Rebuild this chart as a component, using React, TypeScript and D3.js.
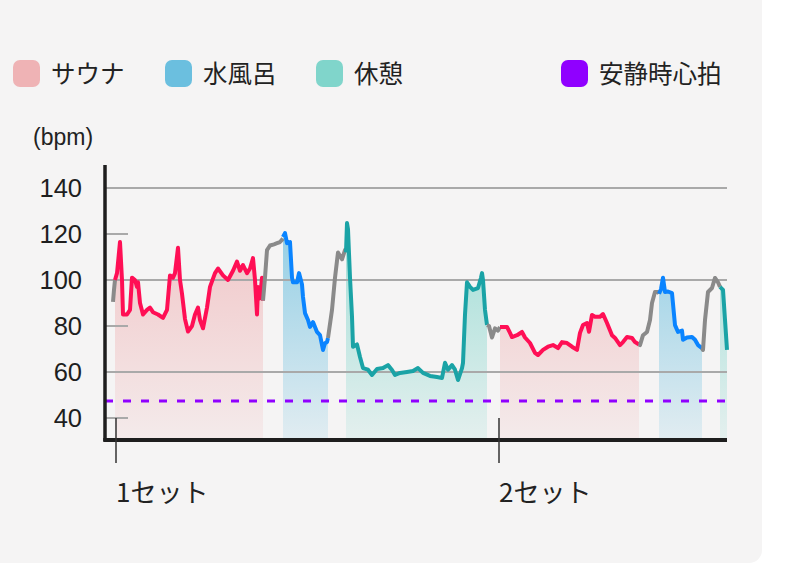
import { scaleLinear, line as d3line, area as d3area } from "d3";

// time in minutes from the start of the session, bpm
type Pt = [number, number];
type Phase = "sauna" | "water" | "rest" | "trans";

const trans0: Pt[] = [[0, 90.5], [0.1, 95.7], [0.2, 100]];
const sauna1: Pt[] = [
  [0.2, 100], [0.4, 103], [0.7, 116.5], [0.9, 100], [1.0, 85], [1.4, 85], [1.7, 87], [1.9, 101],
  [2.2, 100], [2.4, 97], [2.5, 99], [2.7, 90], [3.0, 85], [3.4, 87], [3.7, 88], [4.0, 86],
  [4.5, 85], [5.0, 83.5], [5.4, 87], [5.7, 102], [6.0, 101], [6.2, 103], [6.5, 114], [6.7, 100],
  [6.9, 94], [7.2, 83], [7.5, 77.6], [7.9, 80], [8.2, 85], [8.5, 88], [8.7, 82.6], [9.0, 79],
  [9.4, 88], [9.7, 97], [10.2, 103], [10.5, 105], [11.0, 102], [11.5, 100], [12.0, 104], [12.4, 108],
  [12.7, 104], [13.0, 106.5], [13.4, 103], [13.7, 105], [14.0, 109.5], [14.2, 100], [14.4, 85],
  [14.5, 97], [14.7, 92], [14.9, 101], [15.0, 91],
];
const trans1: Pt[] = [[15.0, 91], [15.2, 101], [15.4, 113], [15.7, 115], [16.1, 115.5], [16.4, 116], [16.7, 116.5], [17.0, 118]];
const water1: Pt[] = [
  [17.0, 118.7], [17.2, 120.4], [17.4, 116], [17.7, 116.5], [17.9, 101], [18.0, 99], [18.4, 99],
  [18.6, 103], [18.9, 98], [19.0, 92.6], [19.2, 85.6], [19.5, 82.6], [19.7, 79.6], [20.0, 81.7],
  [20.4, 77.4], [20.7, 76], [21.0, 69.6], [21.2, 72.5], [21.4, 73], [21.5, 74.8],
];
const trans2: Pt[] = [[21.5, 74.8], [21.9, 87], [22.2, 101], [22.5, 112], [22.9, 109], [23.2, 113], [23.3, 112]];
const rest1: Pt[] = [
  [23.3, 112], [23.4, 124.8], [23.5, 122], [23.7, 101], [23.9, 84], [24.0, 71], [24.4, 72], [24.7, 66.5],
  [25.0, 61.7], [25.5, 61], [25.9, 58.7], [26.4, 61.3], [27.0, 61.7], [27.5, 63], [27.9, 60.9],
  [28.2, 58.7], [28.7, 59.6], [29.4, 60], [30.0, 60.4], [30.5, 61.7], [31.0, 59.6], [31.7, 58.3],
  [32.4, 57.8], [32.9, 57.4], [33.2, 64], [33.5, 61], [33.9, 63], [34.2, 61], [34.5, 56.5],
  [34.9, 61.7], [35.0, 64], [35.2, 85], [35.4, 99], [35.7, 97], [36.0, 95.7], [36.5, 96.5],
  [36.8, 101], [36.9, 103], [37.0, 100], [37.2, 87], [37.4, 80.4],
];
const trans3: Pt[] = [[37.4, 80.4], [37.6, 80], [37.9, 75], [38.2, 79], [38.5, 78], [38.7, 79.6]];
const sauna2: Pt[] = [
  [38.7, 79.6], [38.9, 79.6], [39.4, 79.6], [39.7, 77], [39.9, 75.2], [40.4, 76], [40.9, 77.4],
  [41.2, 75], [41.7, 72.6], [42.2, 68.3], [42.5, 67.4], [43.0, 69.6], [43.5, 71], [44.0, 71.7],
  [44.5, 70.4], [44.9, 73], [45.4, 72.6], [45.9, 71], [46.4, 69.6], [46.7, 77], [47.0, 80.4],
  [47.4, 81.3], [47.6, 77.5], [47.9, 84.8], [48.2, 84], [48.7, 84], [49.0, 85.2], [49.4, 81.3],
  [49.9, 76], [50.2, 74.8], [50.7, 71.7], [51.0, 73], [51.4, 75.2], [51.9, 74.8], [52.2, 73], [52.6, 72],
];
const trans4: Pt[] = [[52.6, 72], [52.7, 71.7], [53.0, 76], [53.4, 77.4], [53.7, 82.6], [53.9, 90], [54.2, 94.8], [54.5, 94.8], [54.6, 94]];
const water2: Pt[] = [
  [54.6, 94], [54.8, 96], [55.0, 101], [55.2, 94.8], [55.5, 95], [55.9, 94.3], [56.2, 80.4],
  [56.5, 77.4], [56.9, 78], [57.0, 74], [57.4, 75], [57.9, 75.2], [58.2, 74], [58.5, 71.7], [58.9, 70.4],
];
const trans5: Pt[] = [[58.9, 70.4], [59.0, 69.6], [59.2, 82.6], [59.5, 94.8], [59.9, 96.5], [60.2, 100.9], [60.5, 99], [60.7, 97]];
const rest2: Pt[] = [[60.7, 97], [61.0, 95.7], [61.4, 69.6]];

const SEGMENTS: { phase: Phase; pts: Pt[] }[] = [
  { phase: "trans", pts: trans0 }, { phase: "sauna", pts: sauna1 }, { phase: "trans", pts: trans1 },
  { phase: "water", pts: water1 }, { phase: "trans", pts: trans2 }, { phase: "rest", pts: rest1 },
  { phase: "trans", pts: trans3 }, { phase: "sauna", pts: sauna2 }, { phase: "trans", pts: trans4 },
  { phase: "water", pts: water2 }, { phase: "trans", pts: trans5 }, { phase: "rest", pts: rest2 },
];

const Y_TICKS = [40, 60, 80, 100, 120, 140];
const SET_LABELS = ["1セット", "2セット"];
const SET_TIMES = [0.3, 38.6];
const RESTING_HR = 47.4;
const LEGEND_LABELS = ["サウナ", "水風呂", "休憩", "安静時心拍"];

const FILL: Record<string, string> = { sauna: "#efb3b5", water: "#6bbfdf", rest: "#80d5cb", resting: "#9000ff" };
const LINE: Record<Phase, string> = { sauna: "#ff0f55", water: "#0a84ff", rest: "#1aa3a6", trans: "#8a8a8a" };
const LEGEND_KEYS = ["sauna", "water", "rest", "resting"];
const LEGEND_X = [13, 165, 316, 561];

const JP = "'Noto Sans CJK JP', sans-serif";
const NUM = "'Liberation Sans', Arial, sans-serif";

export default function App() {
  const x = scaleLinear().domain([0, 61.4]).range([113, 727]);
  const y = scaleLinear().domain([30, 150]).range([441, 165]);
  const lineGen = d3line<Pt>().x(d => x(d[0])).y(d => y(d[1]));
  const areaGen = d3area<Pt>().x(d => x(d[0])).y0(y(30)).y1(d => y(d[1]));
  const left = 105, right = 727;

  return (
    <svg width={800} height={571} style={{ position: "absolute", left: 0, top: 0, background: "#fff" }}>
      <defs>
        {["sauna", "water", "rest"].map(k => (
          <linearGradient key={k} id={`g-${k}`} gradientUnits="userSpaceOnUse" x1={0} x2={0} y1={230} y2={441}>
            <stop offset="0" stopColor={FILL[k]} stopOpacity={0.7} />
            <stop offset="1" stopColor={FILL[k]} stopOpacity={0.14} />
          </linearGradient>
        ))}
      </defs>
      <rect x={-20} y={-20} width={782} height={583} rx={13} fill="#f5f4f4" />

      {/* legend */}
      {LEGEND_KEYS.map((k, i) => (
        <g key={k}>
          <rect x={LEGEND_X[i]} y={60} width={27} height={27} rx={7} fill={FILL[k]} />
          <text x={LEGEND_X[i] + 38} y={74} dy="0.36em" fontSize={24.5} fontFamily={JP} fill="#222">
            {LEGEND_LABELS[i]}
          </text>
        </g>
      ))}

      <text x={33} y={145} fontSize={23} fontFamily={NUM} fill="#222">(bpm)</text>

      {/* area fills */}
      {SEGMENTS.filter(s => s.phase !== "trans").map((s, i) => (
        <path key={i} d={areaGen(s.pts) ?? ""} fill={`url(#g-${s.phase})`} />
      ))}

      {/* grid */}
      {Y_TICKS.map((t, i) => (
        <g key={t}>
          <line x1={left} x2={i % 2 === 1 ? right : left + 23} y1={y(t)} y2={y(t)} stroke="#a9a9a9" strokeWidth={2} />
          <text x={82} y={y(t)} dy="0.36em" textAnchor="end" fontSize={25.5} fontFamily={NUM} fill="#1e1e1e">{t}</text>
        </g>
      ))}

      <line x1={left} x2={right} y1={y(RESTING_HR)} y2={y(RESTING_HR)} stroke={FILL.resting} strokeWidth={3} strokeDasharray="8 10" />

      {/* lines */}
      {SEGMENTS.map((s, i) => (
        <path key={i} d={lineGen(s.pts) ?? ""} fill="none" stroke={LINE[s.phase]} strokeWidth={4} strokeLinejoin="round" />
      ))}

      {/* axes */}
      <line x1={left} x2={left} y1={165} y2={441} stroke="#1e1e1e" strokeWidth={3.5} />
      <line x1={left - 1.75} x2={right} y1={440} y2={440} stroke="#1e1e1e" strokeWidth={4} />
      {SET_TIMES.map((t, i) => (
        <g key={i}>
          <line x1={x(t)} x2={x(t)} y1={418} y2={463} stroke="#333" strokeWidth={1.5} />
          <text x={x(t)} y={502} fontSize={26} fontFamily={JP} fill="#222">{SET_LABELS[i]}</text>
        </g>
      ))}
    </svg>
  );
}
